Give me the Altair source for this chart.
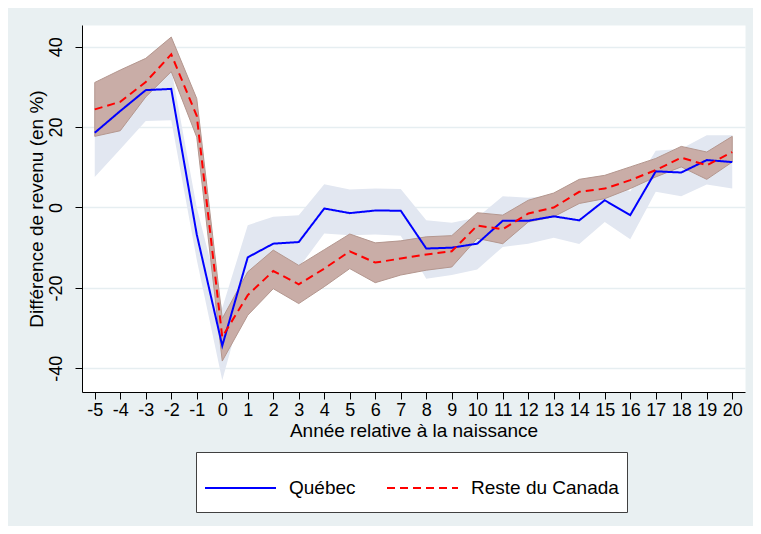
import altair as alt
import pandas as pd

years = list(range(-5, 21))

quebec = [18.6, 24.0, 29.2, 29.5, -6.7, -34.4, -12.4, -9.0, -8.6, -0.25, -1.4, -0.75, -0.8,
          -10.2, -10.0, -9.0, -3.3, -3.3, -2.2, -3.2, 1.8, -1.9, 9.0, 8.7, 11.8, 11.3]
quebec_lo = [7.6, 14.5, 21.5, 21.7, -13.0, -43.0, -20.0, -16.0, -15.0, -6.5, -6.9, -6.7, -7.0,
             -17.7, -16.8, -15.4, -9.8, -9.0, -7.5, -9.1, -3.6, -7.9, 3.9, 2.8, 5.7, 4.7]
quebec_hi = [29.7, 33.5, 36.9, 34.5, 0.0, -25.0, -4.4, -2.3, -1.9, 5.8, 4.5, 4.7, 4.6,
             -3.2, -3.8, -2.5, 2.8, 2.4, 3.0, 2.7, 7.3, 4.0, 14.1, 14.6, 18.0, 18.0]

canada = [24.4, 26.3, 31.2, 38.1, 22.8, -32.2, -21.8, -15.8, -19.1, -15.2, -10.9, -13.7, -12.7,
          -11.7, -10.9, -4.5, -5.4, -1.5, 0.0, 3.9, 4.7, 6.8, 9.3, 12.4, 10.5, 13.8]
canada_lo = [17.7, 19.1, 27.5, 33.8, 17.5, -38.2, -26.8, -20.2, -23.9, -19.7, -15.2, -18.7, -16.8,
             -15.6, -14.8, -7.7, -9.0, -3.6, -2.3, 1.0, 2.2, 4.7, 7.6, 10.1, 7.0, 11.3]
canada_hi = [31.1, 34.2, 37.1, 42.4, 27.1, -27.6, -16.0, -10.6, -14.4, -10.5, -6.6, -8.8, -8.3,
             -7.3, -7.0, -1.3, -1.9, 1.8, 3.6, 7.0, 8.0, 10.1, 12.2, 15.2, 13.8, 17.7]

series_names = ["Québec", "Reste du Canada"]
y_ticks = [-40, -20, 0, 20, 40]

rows = []
for i, t in enumerate(years):
    rows.append({"annee": t, "serie": series_names[0], "val": quebec[i],
                 "lo": quebec_lo[i], "hi": quebec_hi[i]})
    rows.append({"annee": t, "serie": series_names[1], "val": canada[i],
                 "lo": canada_lo[i], "hi": canada_hi[i]})
df = pd.DataFrame(rows)

FONT = "Liberation Sans"
HYPHEN = "datum.value < 0 ? '-' + abs(datum.value) : '' + datum.value"

x_scale = alt.Scale(domain=[-5.5, 20.5], nice=False, zero=False)
y_scale = alt.Scale(domain=[-45.9, 45.4], nice=False, zero=False)

x_axis = alt.Axis(values=years, labelExpr=HYPHEN, grid=False, labelOverlap=False,
                  labelFlush=False, labelFontSize=18, labelPadding=2,
                  tickSize=7, titleFontSize=19, titlePadding=2)
y_axis = alt.Axis(values=y_ticks, labelExpr=HYPHEN, grid=True, labelAngle=270, labelAlign="center",
                  labelBaseline="alphabetic", labelFontSize=18, labelPadding=14, tickSize=7,
                  titleFontSize=19, titlePadding=1, labelOverlap=False)

x_enc = alt.X("annee:Q", scale=x_scale, title="Année relative à la naissance", axis=x_axis)

base = alt.Chart(df)

band_q = base.transform_filter(alt.datum.serie == series_names[0]).mark_area(
    color="#E2E7F1", opacity=1
).encode(x=x_enc, y=alt.Y("lo:Q", scale=y_scale, axis=y_axis, title="Différence de revenu (en %)"),
         y2="hi:Q")

band_c = base.transform_filter(alt.datum.serie == series_names[1]).mark_area(
    color="#C9ADA7", opacity=1, stroke="#B4978F", strokeWidth=1
).encode(x=x_enc, y="lo:Q", y2="hi:Q")

lines = base.mark_line(strokeWidth=2).encode(
    x=x_enc,
    y="val:Q",
    color=alt.Color("serie:N", scale=alt.Scale(domain=series_names, range=["#0000FF", "#FF0000"]),
                    legend=alt.Legend(orient="none", legendX=114, legendY=427, direction="horizontal",
                                      title=" ", titleFontSize=10, titlePadding=2,
                                      symbolType="stroke", symbolSize=5041, clipHeight=32,
                                      symbolStrokeWidth=2, labelFontSize=19, labelFont=FONT,
                                      labelColor="black", labelOffset=12, columnPadding=30,
                                      padding=8, strokeColor="#404040", fillColor="white")),
    strokeDash=alt.StrokeDash("serie:N", scale=alt.Scale(domain=series_names, range=[[1, 0], [8, 5]]),
                              legend=None),
)

chart = alt.layer(band_q, band_c, lines).properties(
    width=663, height=367,
    autosize=alt.AutoSizeParams(type="none"),
    padding={"left": 74, "top": 17, "right": 8, "bottom": 134},
    background="#E9F0F2",
).configure_view(fill="white", stroke="transparent").configure_axis(
    domainColor="black", tickColor="black", labelColor="black", titleColor="black",
    labelFont=FONT, titleFont=FONT, titleFontWeight="normal", gridColor="#E6EEF1", gridWidth=1.5,
    domainWidth=1, tickWidth=1
).configure_axisX(labelOverlap=False)

chart.save("out.html", embed_options={"renderer": "svg", "actions": False})
